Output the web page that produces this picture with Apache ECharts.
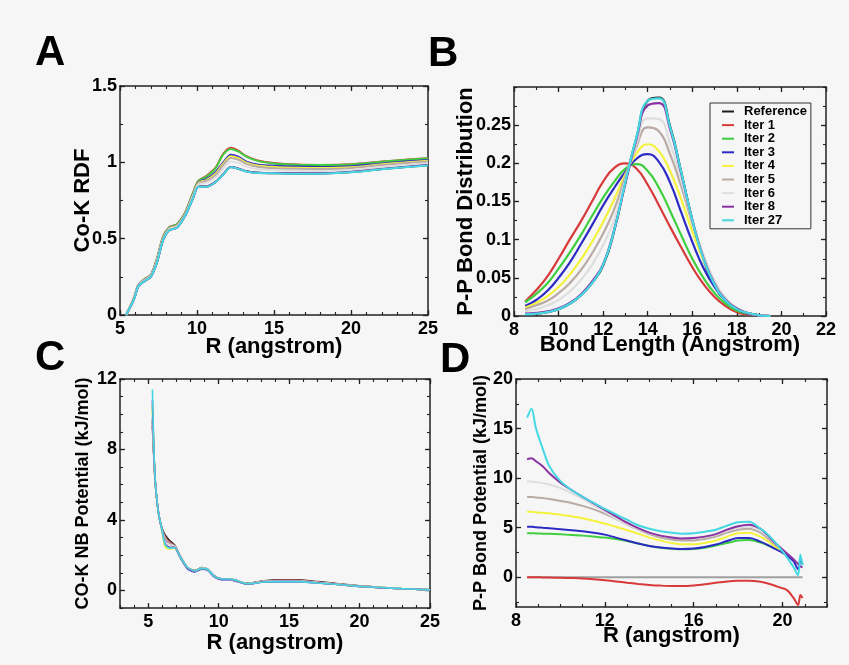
<!DOCTYPE html>
<html>
<head>
<meta charset="UTF-8">
<title>RDF and bond potentials</title>
<style>
html,body{margin:0;padding:0;background:#f6f6f6;}
#main{width:849px;height:665px;}
</style>
</head>
<body>
<div id="main"></div>
<script src="https://cdn.jsdelivr.net/npm/echarts@6/dist/echarts.min.js"></script>
<script>
var FONT = "'Liberation Sans', Arial, Helvetica, sans-serif";
var names  = ['Reference','Iter 1','Iter 2','Iter 3','Iter 4','Iter 5','Iter 6','Iter 8','Iter 27'];
var colors = ['#1e1e1e','#d83a3a','#3fce3f','#2c2cc4','#f4f23c','#b9aaa4','#dedede','#8a32a3','#45d8e2'];

// A: Co-K RDF
var rdfX     = [5.4,5.9,6.2,6.6,7.0,7.4,7.8,8.2,8.7,9.2,9.7,10.1,10.6,11.2,11.7,12.2,12.7,13.2,14,15,16.5,18,20,22,23.5,25];
var rdfRef   = [0,0.1,0.19,0.223,0.251,0.346,0.49,0.556,0.573,0.646,0.756,0.841,0.841,0.871,0.921,0.969,0.958,0.941,0.931,0.929,0.927,0.927,0.936,0.956,0.969,0.981];
var rdfIt1   = [0,0.11,0.2,0.235,0.262,0.37,0.515,0.575,0.595,0.665,0.79,0.88,0.91,0.965,1.055,1.095,1.075,1.04,1.01,0.995,0.985,0.983,0.987,1.005,1.017,1.027];
var rdfIt2   = [0,0.11,0.2,0.235,0.262,0.368,0.512,0.573,0.594,0.663,0.788,0.878,0.905,0.96,1.05,1.088,1.07,1.038,1.008,0.993,0.984,0.982,0.986,1.004,1.016,1.026];
var rdfIt3   = [0,0.105,0.198,0.232,0.258,0.362,0.505,0.568,0.588,0.657,0.778,0.87,0.89,0.935,1.0,1.05,1.035,1.005,0.985,0.978,0.972,0.97,0.975,0.993,1.005,1.015];
var rdfIt4   = [0,0.105,0.197,0.231,0.257,0.36,0.503,0.566,0.586,0.655,0.775,0.867,0.884,0.925,0.992,1.04,1.027,0.998,0.978,0.97,0.965,0.963,0.968,0.987,0.999,1.01];
var rdfIt5   = [0,0.104,0.196,0.23,0.256,0.358,0.5,0.564,0.584,0.653,0.772,0.862,0.878,0.915,0.982,1.028,1.017,0.99,0.97,0.962,0.958,0.956,0.962,0.982,0.994,1.005];
var rdfIt6   = [0,0.103,0.195,0.228,0.255,0.355,0.497,0.562,0.58,0.65,0.768,0.855,0.865,0.9,0.958,1.005,0.995,0.972,0.955,0.948,0.945,0.944,0.95,0.97,0.983,0.995];
var rdfIt8   = [0,0.1,0.19,0.222,0.25,0.345,0.49,0.555,0.572,0.645,0.755,0.84,0.842,0.872,0.922,0.97,0.958,0.942,0.932,0.93,0.928,0.928,0.937,0.957,0.97,0.982];
var rdfIt27  = [0,0.1,0.19,0.222,0.25,0.345,0.49,0.555,0.572,0.645,0.755,0.84,0.84,0.87,0.92,0.968,0.957,0.94,0.93,0.928,0.926,0.926,0.935,0.955,0.968,0.98];

// B: P-P bond distribution
var bondX    = [8.5,9,9.5,10,10.5,11,11.5,12,12.5,13,13.5,14,14.5,15,15.5,16,16.5,17,17.5,18,18.5,19,19.5];
var bondRef  = [0.002,0.003,0.005,0.009,0.016,0.027,0.043,0.066,0.112,0.176,0.234,0.282,0.286,0.249,0.189,0.126,0.074,0.04,0.02,0.009,0.004,0.001,0];
var bondIt1  = [0.019,0.034,0.052,0.075,0.1,0.124,0.15,0.176,0.194,0.2,0.193,0.172,0.145,0.117,0.09,0.064,0.042,0.025,0.013,0.005,0.002,0.001,0];
var bondIt2  = [0.018,0.029,0.043,0.062,0.083,0.106,0.131,0.155,0.176,0.193,0.199,0.19,0.168,0.138,0.106,0.075,0.05,0.03,0.016,0.007,0.003,0.001,0];
var bondIt3  = [0.013,0.021,0.033,0.05,0.07,0.094,0.119,0.145,0.168,0.189,0.206,0.212,0.202,0.175,0.136,0.097,0.063,0.038,0.02,0.009,0.003,0.001,0];
var bondIt4  = [0.011,0.017,0.026,0.038,0.054,0.074,0.097,0.123,0.153,0.186,0.213,0.225,0.216,0.19,0.153,0.111,0.073,0.043,0.022,0.01,0.004,0.001,0];
var bondIt5  = [0.009,0.014,0.02,0.03,0.043,0.06,0.082,0.108,0.14,0.183,0.222,0.247,0.242,0.212,0.17,0.122,0.079,0.045,0.023,0.01,0.004,0.001,0];
var bondIt6  = [0.006,0.009,0.014,0.021,0.032,0.047,0.067,0.093,0.127,0.178,0.226,0.259,0.258,0.226,0.178,0.126,0.08,0.045,0.023,0.01,0.004,0.001,0];
var bondIt8  = [0.003,0.004,0.006,0.01,0.017,0.028,0.045,0.068,0.114,0.174,0.232,0.276,0.279,0.245,0.187,0.126,0.076,0.042,0.021,0.01,0.004,0.001,0];
var bondIt27 = [0.002,0.003,0.005,0.009,0.016,0.027,0.043,0.067,0.113,0.176,0.235,0.282,0.285,0.248,0.189,0.126,0.075,0.041,0.02,0.009,0.004,0.001,0];

// C: CO-K non-bonded potential
var nbX      = [5.3,5.4,5.5,5.65,5.8,6.0,6.2,6.5,6.9,7.3,7.8,8.3,8.8,9.2,9.7,10.2,10.8,11.3,12,12.5,13.2,14.5,15.5,17,18.5,20,21.5,23,25];
var nbRef    = [9.3,7.6,6.1,4.9,4.1,3.5,3.15,2.85,2.55,1.9,1.3,1.12,1.3,1.22,0.82,0.66,0.66,0.56,0.4,0.45,0.55,0.6,0.6,0.5,0.38,0.26,0.17,0.1,0.03];
var nbIt1    = [9.6,7.7,6.15,4.9,4.1,3.45,3.05,2.75,2.5,1.88,1.28,1.1,1.28,1.2,0.8,0.64,0.64,0.54,0.38,0.43,0.52,0.57,0.57,0.47,0.36,0.24,0.16,0.09,0.03];
var nbIt2    = [10.5,7.9,6.2,4.9,4.05,3.3,2.55,2.4,2.42,1.85,1.28,1.1,1.26,1.2,0.8,0.64,0.64,0.54,0.38,0.41,0.5,0.52,0.52,0.44,0.34,0.23,0.16,0.1,0.03];
var nbIt3    = [9.8,7.8,6.2,4.9,4.05,3.4,2.9,2.65,2.45,1.82,1.22,1.05,1.2,1.15,0.75,0.6,0.6,0.5,0.35,0.4,0.48,0.5,0.5,0.42,0.33,0.22,0.15,0.09,0.03];
var nbIt4    = [10.2,7.9,6.2,4.9,4.05,3.35,2.45,2.35,2.4,1.85,1.27,1.1,1.25,1.19,0.79,0.64,0.64,0.54,0.38,0.41,0.5,0.52,0.52,0.44,0.34,0.23,0.16,0.1,0.03];
var nbIt5    = [9.5,7.7,6.1,4.9,4.1,3.45,3.0,2.7,2.5,1.88,1.28,1.1,1.27,1.2,0.8,0.64,0.64,0.54,0.38,0.43,0.52,0.56,0.56,0.46,0.35,0.24,0.16,0.1,0.03];
var nbIt6    = [10.0,7.8,6.15,4.9,4.08,3.4,2.8,2.6,2.5,1.87,1.28,1.1,1.27,1.2,0.8,0.64,0.64,0.54,0.38,0.42,0.51,0.54,0.54,0.45,0.35,0.24,0.16,0.1,0.03];
var nbIt8    = [10.8,8.0,6.25,4.9,4.08,3.4,2.65,2.45,2.43,1.85,1.27,1.09,1.24,1.19,0.79,0.63,0.63,0.53,0.37,0.4,0.49,0.51,0.51,0.43,0.33,0.23,0.15,0.09,0.03];
var nbIt27   = [11.4,8.2,6.3,4.9,4.1,3.4,2.6,2.4,2.42,1.85,1.3,1.1,1.25,1.2,0.8,0.65,0.65,0.55,0.38,0.4,0.48,0.5,0.5,0.42,0.33,0.23,0.16,0.1,0.03];

// D: P-P bond potential
var potX     = [8.5,8.7,8.9,9.2,9.5,10,10.5,11,11.5,12,12.5,13,13.5,14,14.5,15,15.5,16,16.5,17,17.5,18,18.5,19,19.3,19.6,19.9,20.2,20.5,20.7,20.8,20.9];
var potIt1   = [0,0,0,-0.02,-0.03,-0.05,-0.08,-0.12,-0.2,-0.3,-0.42,-0.55,-0.67,-0.77,-0.84,-0.88,-0.88,-0.82,-0.7,-0.55,-0.42,-0.35,-0.34,-0.45,-0.6,-0.8,-1.05,-1.3,-2.1,-2.8,-1.8,-2.1];
var potIt2   = [4.45,4.45,4.42,4.4,4.38,4.33,4.27,4.2,4.1,4.0,3.85,3.65,3.4,3.15,2.98,2.88,2.82,2.85,2.98,3.2,3.45,3.7,3.75,3.5,3.25,2.95,2.7,null,null,null,null,null];
var potIt3   = [5.1,5.1,5.05,5.0,4.95,4.85,4.75,4.65,4.5,4.3,4.0,3.7,3.4,3.15,3.0,2.9,2.85,2.9,3.05,3.3,3.65,3.95,3.95,3.6,3.3,2.95,2.6,2.2,1.6,0.8,1.8,1.3];
var potIt4   = [6.6,6.6,6.55,6.5,6.45,6.3,6.15,5.95,5.7,5.4,5.1,4.75,4.4,4.0,3.7,3.45,3.32,3.32,3.45,3.7,4.1,4.45,4.5,4.1,3.7,3.2,2.8,null,null,null,null,null];
var potIt5   = [8.1,8.1,8.05,8.0,7.9,7.7,7.5,7.2,6.85,6.4,5.9,5.3,4.8,4.35,4.0,3.8,3.7,3.72,3.85,4.1,4.5,4.8,4.9,4.5,4.0,3.4,2.9,null,null,null,null,null];
var potIt6   = [9.65,9.65,9.6,9.5,9.35,9.0,8.5,7.9,7.25,6.6,5.95,5.35,4.85,4.45,4.2,4.05,3.95,3.95,4.1,4.3,4.7,5.0,5.1,4.7,4.2,3.6,3.0,null,null,null,null,null];
var potIt8   = [11.9,12.0,11.7,11.2,10.5,9.55,8.8,8.1,7.45,6.8,6.15,5.5,4.95,4.5,4.2,4.0,3.9,3.95,4.1,4.35,4.8,5.15,5.3,4.9,4.3,3.6,3.0,2.4,1.8,1.3,1.1,1.0];
var potIt27  = [16.1,17.0,15.0,13.0,11.2,9.7,8.8,8.1,7.5,6.9,6.35,5.8,5.25,4.9,4.65,4.5,4.4,4.45,4.6,4.8,5.2,5.55,5.6,4.9,4.4,3.7,2.9,2.0,1.0,0.2,2.3,1.2];
var zeroX    = [8.5,20.9];
var zeroY    = [0,0];

// tick labels
var rdfXTicks  = [5,10,15,20,25],  rdfYTicks  = [0,0.5,1,1.5];
var bondXTicks = [8,10,12,14,16,18,20,22], bondYTicks = [0,0.05,0.1,0.15,0.2,0.25];
var nbXTicks   = [5,10,15,20,25],  nbYTicks   = [0,4,8,12];
var potXTicks  = [8,12,16,20],     potYTicks  = [0,5,10,15,20];

function range(a, b, s) {
    var r = [];
    for (var v = a; v <= b + 1e-9; v += s) r.push(+v.toFixed(4));
    return r;
}

var xAxes = [], yAxes = [];
// frame axis (line + major ticks, labels on bottom/left) plus minor tick axis, on both sides
function addAxes(list, dim, gi, o) {
    var first = list.length;
    var sides = dim === 'x' ? ['bottom', 'top'] : ['left', 'right'];
    sides.forEach(function (side, k) {
        list.push({
            type: 'value', gridIndex: gi, position: side, min: o.min, max: o.max,
            name: k === 0 ? o.name : '', nameLocation: 'middle', nameGap: o.nameGap, nameMoveOverlap: false,
            nameTextStyle: {fontSize: o.nameSize, fontWeight: 'bold', color: '#000', fontFamily: FONT},
            axisLine: {show: true, onZero: false, lineStyle: {color: '#222', width: 1.5}},
            axisTick: {show: true, inside: true, length: 5, customValues: o.major, lineStyle: {color: '#222', width: 1.3}},
            axisLabel: {show: k === 0, customValues: o.major, fontSize: 18, fontWeight: 'bold', color: '#000', fontFamily: FONT, margin: dim === 'x' ? 5 : 3},
            splitLine: {show: false}
        });
        list.push({
            type: 'value', gridIndex: gi, position: side, min: o.min, max: o.max,
            axisLine: {show: false, onZero: false},
            axisTick: {show: true, inside: true, length: 3, customValues: o.minor, lineStyle: {color: '#222', width: 1.1}},
            axisLabel: {show: false},
            splitLine: {show: false}
        });
    });
    return first;
}

var ax = {};
ax.aX = addAxes(xAxes, 'x', 0, {min: 5, max: 25, major: rdfXTicks, minor: range(5, 25, 1), name: 'R (angstrom)', nameGap: 21, nameSize: 22});
ax.aY = addAxes(yAxes, 'y', 0, {min: 0, max: 1.5, major: rdfYTicks, minor: range(0, 1.5, 0.25), name: 'Co-K RDF', nameGap: 26, nameSize: 22});
ax.bX = addAxes(xAxes, 'x', 1, {min: 8, max: 22, major: bondXTicks, minor: range(8, 22, 1), name: 'Bond Length (Angstrom)', nameGap: 18, nameSize: 22});
ax.bY = addAxes(yAxes, 'y', 1, {min: 0, max: 0.3, major: bondYTicks, minor: range(0, 0.3, 0.025), name: 'P-P Bond Distribution', nameGap: 37, nameSize: 22});
ax.cX = addAxes(xAxes, 'x', 2, {min: 3, max: 25, major: nbXTicks, minor: range(3, 25, 1), name: 'R (angstrom)', nameGap: 24, nameSize: 22});
ax.cY = addAxes(yAxes, 'y', 2, {min: -1, max: 12, major: nbYTicks, minor: range(-1, 12, 1), name: 'CO-K NB Potential (kJ/mol)', nameGap: 28, nameSize: 18});
ax.dX = addAxes(xAxes, 'x', 3, {min: 8, max: 22, major: potXTicks, minor: range(8, 22, 1), name: 'R (angstrom)', nameGap: 18, nameSize: 22});
ax.dY = addAxes(yAxes, 'y', 3, {min: -3, max: 20, major: potYTicks, minor: range(-2.5, 20, 2.5), name: 'P-P Bond Potential (kJ/mol)', nameGap: 26, nameSize: 18});

function lines(xi, yi, xs, arrays, width, smooth) {
    var out = [];
    arrays.forEach(function (ys, i) {
        if (!ys) return;
        out.push({
            type: 'line', name: names[i], xAxisIndex: xi, yAxisIndex: yi,
            data: xs.map(function (x, j) { return [x, ys[j]]; }),
            symbol: 'none', smooth: smooth,
            lineStyle: {width: width, color: colors[i]}, itemStyle: {color: colors[i]}
        });
    });
    return out;
}

var series = [].concat(
    lines(ax.aX, ax.aY, rdfX, [rdfRef, rdfIt1, rdfIt2, rdfIt3, rdfIt4, rdfIt5, rdfIt6, rdfIt8, rdfIt27], 2, 0.3),
    lines(ax.bX, ax.bY, bondX, [bondRef, bondIt1, bondIt2, bondIt3, bondIt4, bondIt5, bondIt6, bondIt8, bondIt27], 2.2, 0.5),
    lines(ax.cX, ax.cY, nbX, [nbRef, nbIt1, nbIt2, nbIt3, nbIt4, nbIt5, nbIt6, nbIt8, nbIt27], 1.6, 0.2),
    [{
        type: 'line', name: 'zero', xAxisIndex: ax.dX, yAxisIndex: ax.dY,
        data: zeroX.map(function (x, j) { return [x, zeroY[j]]; }),
        symbol: 'none', lineStyle: {width: 2, color: '#a0a0a0'}
    }],
    lines(ax.dX, ax.dY, potX, [null, potIt1, potIt2, potIt3, potIt4, potIt5, potIt6, potIt8, potIt27], 2, 0.3)
);

var letter = function (t, x, y) {
    return {type: 'text', left: x, top: y, style: {text: t, fontSize: 42, fontWeight: 'bold', fontFamily: FONT, fill: '#000'}};
};

var myChart = echarts.init(document.getElementById('main'));
myChart.setOption({
    backgroundColor: '#f6f6f6',
    animation: false,
    textStyle: {fontFamily: FONT},
    grid: [
        {left: 120, top: 86, width: 308, height: 229},
        {left: 514, top: 87, width: 312, height: 229},
        {left: 120, top: 379, width: 310, height: 229},
        {left: 516, top: 379, width: 311, height: 228}
    ],
    xAxis: xAxes,
    yAxis: yAxes,
    legend: {
        data: names, orient: 'vertical', left: 710, top: 103,
        icon: 'rect', itemWidth: 12, itemHeight: 2, itemGap: 0.6,
        padding: [2, 4, 2, 12], borderColor: '#333', borderWidth: 1,
        selectedMode: false,
        textStyle: {fontSize: 13, fontWeight: 'bold', color: '#000', fontFamily: FONT, lineHeight: 13, padding: [0, 0, 0, 5]}
    },
    graphic: [letter('A', 35, 32), letter('B', 428, 33), letter('C', 35, 337), letter('D', 440, 339)],
    series: series
});
</script>
</body>
</html>
